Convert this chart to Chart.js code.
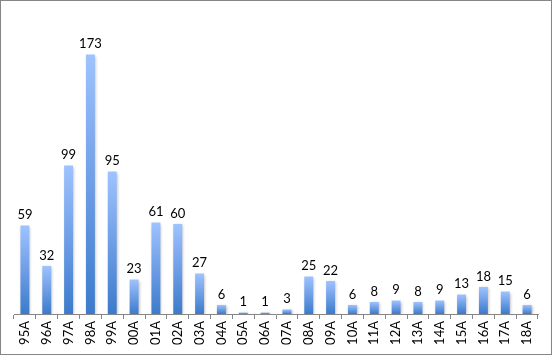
<!DOCTYPE html>
<html>
<head>
<meta charset="utf-8">
<script src="https://cdn.jsdelivr.net/npm/chart.js@4"></script>
<style>
html,body{margin:0;padding:0;background:#fff;}
#wrap{width:552px;height:355px;position:relative;}
canvas{display:block;}
</style>
</head>
<body>
<div id="wrap"><canvas id="c" width="552" height="355"></canvas></div>
<script>
const categories = ["95A","96A","97A","98A","99A","00A","01A","02A","03A","04A","05A","06A","07A","08A","09A","10A","11A","12A","13A","14A","15A","16A","17A","18A"];
const values = [59,32,99,173,95,23,61,60,27,6,1,1,3,25,22,6,8,9,8,9,13,18,15,6];
const yMax = 200;

const fontFamily = "Lato, 'Open Sans', 'Liberation Sans', sans-serif";

function barGradient(context) {
  const chart = context.chart;
  const {ctx, chartArea, scales} = chart;
  if (!chartArea || context.type !== 'data') return '#6A9EE8';
  const v = context.parsed ? context.parsed.y : values[context.dataIndex];
  const top = scales.y.getPixelForValue(v);
  const base = scales.y.getPixelForValue(0);
  if (!isFinite(top) || base - top < 0.5) return '#9EC2FF';
  const g = ctx.createLinearGradient(0, top, 0, base);
  g.addColorStop(0, '#9EC3FF');
  g.addColorStop(0.5, '#6E9EE6');
  g.addColorStop(1, '#3B7BCB');
  return g;
}

const frame = {
  id: 'frame',
  beforeDatasetsDraw(chart) {
    const ctx = chart.ctx;
    ctx.save();
    ctx.shadowColor = 'rgba(0,0,0,0.28)';
    ctx.shadowBlur = 3;
    ctx.shadowOffsetX = 1;
    ctx.shadowOffsetY = 1;
  },
  afterDatasetsDraw(chart) {
    const ctx = chart.ctx;
    ctx.restore();
    const meta = chart.getDatasetMeta(0);
    ctx.save();
    ctx.fillStyle = '#000';
    ctx.font = "13px " + fontFamily;
    ctx.textAlign = 'center';
    ctx.textBaseline = 'bottom';
    meta.data.forEach((bar, i) => {
      ctx.fillText(String(values[i]), bar.x, bar.y - 4);
    });
    ctx.restore();
  },
  afterDraw(chart) {
    const ctx = chart.ctx;
    ctx.save();
    ctx.strokeStyle = '#868686';
    ctx.lineWidth = 1;
    ctx.strokeRect(0.5, 0.5, chart.width - 1, chart.height - 1);
    ctx.restore();
  }
};

new Chart(document.getElementById('c'), {
  type: 'bar',
  data: {
    labels: categories,
    datasets: [{
      data: values,
      backgroundColor: barGradient,
      borderWidth: 0,
      barPercentage: 0.41,
      categoryPercentage: 1.0
    }]
  },
  options: {
    responsive: false,
    animation: false,
    devicePixelRatio: 1,
    layout: { padding: { left: 14, right: 14, top: 14, bottom: 0 } },
    plugins: { legend: { display: false }, tooltip: { enabled: false } },
    scales: {
      x: {
        offset: true,
        grid: {
          offset: true,
          drawOnChartArea: false,
          drawTicks: true,
          tickLength: 5,
          color: '#868686'
        },
        border: { display: true, color: '#868686', width: 1 },
        ticks: {
          minRotation: 90,
          maxRotation: 90,
          autoSkip: false,
          padding: 2,
          color: '#000',
          font: { family: fontFamily, size: 13 }
        },
        afterFit(scale) { scale.height = 41; }
      },
      y: {
        display: false,
        min: 0,
        max: yMax
      }
    }
  },
  plugins: [frame]
});
</script>
</body>
</html>
